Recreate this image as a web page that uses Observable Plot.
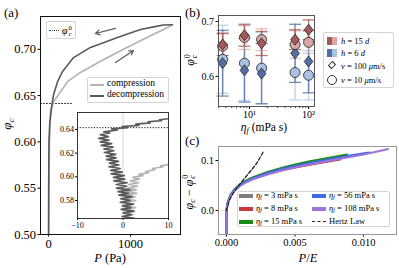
<!DOCTYPE html>
<html><head><meta charset="utf-8">
<script src="https://cdn.jsdelivr.net/npm/d3@7"></script>
<script src="https://cdn.jsdelivr.net/npm/@observablehq/plot@0.6"></script>
<style>
body{margin:0;background:#fff;}
#fig{position:relative;width:399px;height:268px;overflow:hidden;font-family:"Liberation Serif",serif;color:#000;background:#fff}
#fig svg{position:absolute;overflow:visible}
.t{position:absolute;white-space:nowrap;line-height:1}
.c{transform:translate(-50%,-50%)}
.rot{transform:translate(-50%,-50%) rotate(-90deg)}
.lg{position:absolute;border:1px solid #d4d4d4;border-radius:2px;background:rgba(255,255,255,0.9);box-sizing:border-box}
.ss{display:inline-block;vertical-align:-0.32em;font-size:0.68em;line-height:0.9;text-align:left;margin-left:1px}
.sb{font-size:0.7em;vertical-align:-0.25em}
.ln{position:absolute;height:0}
.sw{position:absolute}
</style></head><body><div id="fig"></div><script>
// ---------------- DATA ----------------
// Panel (a) main curves: P (Pa) vs phi_c
const compressionP     = [3, 6, 12, 24, 60, 122, 232, 390, 634, 915, 1207, 1451, 1512];
const compressionPhi   = [0.50, 0.56, 0.60, 0.633, 0.643, 0.651, 0.665, 0.675, 0.687, 0.700, 0.713, 0.7235, 0.7265];
const decompressionP   = [1512, 1400, 1300, 1122, 841, 512, 305, 171, 110, 61, 37, 15, 5, 2, 0];
const decompressionPhi = [0.7265, 0.7262, 0.7245, 0.7214, 0.7127, 0.702, 0.691, 0.676, 0.665, 0.651, 0.637, 0.62, 0.60, 0.55, 0.50];
const phiC0 = 0.6415;
const phiC0LineP = [-100, 280];
// arrows [P1, phi1, P2, phi2]
const decompArrow = [817, 0.7225, 573, 0.717];
const compArrow   = [817, 0.6857, 1037, 0.6987];
const aTicksY = [0.50, 0.55, 0.60, 0.65, 0.70];
const aTicksX = [0, 1000];

// Panel (a) inset: zig-zag near P = 0
const insetDecompP   = [2.3,-0.2,1.8,0.1,2.4,-0.4,1.7,-0.1,2.2,-0.6,1.6,-0.5,2.0,-0.9,1.2,-1.1,1.5,-1.4,0.8,-1.5,0.9,-2.0,0.4,-2.1,0.3,-2.6,-0.2,-2.7,-0.6,-3.1,-0.9,-3.0,-1.0,-3.6,-1.5,-3.7,-1.6,-4.1,-2.0,-4.2,-2.2,-4.8,-2.5,-5.0,-3.1,-5.3,-3.2,-5.0,-2.9,-4.2,-1.2,-2.5,1.0,-0.2,3.5,2.8,6.0,5.5,8.5,8.0,11];
const insetDecompPhi = [0.5650,0.5665,0.5680,0.5695,0.5710,0.5725,0.5740,0.5755,0.5770,0.5785,0.5800,0.5815,0.5830,0.5845,0.5860,0.5875,0.5890,0.5905,0.5920,0.5935,0.5950,0.5965,0.5980,0.5995,0.6010,0.6025,0.6040,0.6055,0.6070,0.6085,0.6100,0.6115,0.6130,0.6145,0.6160,0.6175,0.6190,0.6205,0.6220,0.6235,0.6250,0.6265,0.6280,0.6295,0.6310,0.6325,0.6340,0.6355,0.6370,0.6380,0.6395,0.6405,0.6415,0.6425,0.6435,0.6445,0.6455,0.6465,0.6475,0.6482,0.6495];
const insetCompP   = [2.6,0.3,2.2,0.0,2.5,0.4,2.7,0.2,2.4,0.5,2.8,0.3,2.6,0.6,3.0,0.8,2.9,1.0,3.2,1.2,3.4,1.6,3.6,2.2,4.4,3.5,5.6,5.0,7.0,6.5,8.8,8.3,11];
const insetCompPhi = [0.5650,0.5665,0.5680,0.5695,0.5710,0.5725,0.5740,0.5755,0.5770,0.5785,0.5800,0.5815,0.5830,0.5845,0.5860,0.5875,0.5890,0.5905,0.5920,0.5935,0.5950,0.5965,0.5980,0.5995,0.6010,0.6020,0.6035,0.6045,0.6060,0.6070,0.6085,0.6092,0.6110];
const insetTicksX = [-10, 0, 10];
const insetTicksY = [0.58, 0.60, 0.62, 0.64];

// Panel (b): phi_c^0 vs eta_f
const etaB = [3.5, 8.2, 16, 59, 100];
const phiH15v100 = [0.658, 0.675, 0.660, 0.667, 0.685];
const errH15v100 = [0.020, 0.020, 0.022, 0.018, 0.018];
const phiH15v10  = [0.655, 0.671, 0.667, 0.658, 0.662];
const errH15v10  = [0.025, 0.022, 0.020, 0.025, 0.020];
const phiH6v100  = [0.624, 0.611, 0.605, 0.642, 0.627];
const errH6v100  = [0.060, 0.058, 0.055, 0.053, 0.057];
const phiH6v10   = [0.631, 0.624, 0.615, 0.607, 0.602];
const errH6v10   = [0.062, 0.068, 0.065, 0.050, 0.045];
const bTicksY = [0.6, 0.7];
const bTicksX = [10, 100];
const bMinorX = [3,4,5,6,7,8,9,20,30,40,50,60,70,80,90];

// Panel (c): phi_c - phi_c^0 vs P/E
const cEta = ["3", "8", "15", "56", "108"];
const cX3   = [0,0,0.0001,0.0003,0.0006,0.001,0.0015,0.002,0.003,0.004,0.005,0.006,0.007];
const cY3   = [-0.06,0,0.016,0.031,0.042,0.052,0.060,0.066,0.075,0.083,0.089,0.095,0.100];
const cX8   = [0,0,0.0001,0.0003,0.0006,0.001,0.0015,0.002,0.003,0.004,0.005,0.006,0.007,0.0083];
const cY8   = [-0.06,0,0.016,0.030,0.041,0.050,0.058,0.064,0.073,0.080,0.086,0.091,0.096,0.102];
const cX15  = [0,0,0.0001,0.0003,0.0006,0.001,0.0015,0.002,0.003,0.004,0.005,0.006,0.007,0.008,0.0088];
const cY15  = [-0.06,0,0.017,0.032,0.043,0.053,0.061,0.067,0.077,0.085,0.092,0.098,0.103,0.108,0.112];
const cX56  = [0,0,0.0001,0.0003,0.0006,0.001,0.0015,0.002,0.003,0.004,0.005,0.006,0.007,0.008,0.009,0.0104];
const cY56  = [-0.06,0,0.016,0.031,0.042,0.051,0.059,0.065,0.075,0.083,0.089,0.095,0.100,0.105,0.110,0.116];
const cX108 = [0,0,0.0001,0.0003,0.0006,0.001,0.0015,0.002,0.003,0.004,0.005,0.006,0.007,0.008,0.009,0.010,0.011,0.0118];
const cY108 = [-0.06,0,0.015,0.029,0.040,0.049,0.057,0.063,0.072,0.080,0.086,0.092,0.097,0.102,0.107,0.112,0.118,0.123];
const hertzX = [0, 0.0002, 0.0005, 0.0011, 0.0017, 0.0022, 0.0027];
const hertzY = [0, 0.020, 0.035, 0.057, 0.077, 0.094, 0.118];
const cTicksX = [0, 0.005, 0.010];
const cTicksY = [0.0, 0.1];

// ---------------- STYLES ----------------
const lightGray = "#b3b3b3", darkGray = "#595959";
const darkRed = "#a65757", lightRed = "#d9a6a4", darkBlue = "#4f6fa6", lightBlue = "#aac2e2";
const cColors = ["#7f7f7f", "#c8383c", "#1a8a1a", "#4169e1", "#9a77dd"];

// ---------------- HELPERS ----------------
const fig = document.getElementById("fig");
const zip = (xs, ys) => xs.map((x, i) => ({x, y: ys[i]}));
function place(svg, left, top) { svg.style.left = left + "px"; svg.style.top = top + "px"; fig.appendChild(svg); }
function txt(html, x, y, size, cls = "", extra = "") {
  const d = document.createElement("div");
  d.className = "t " + cls;
  d.style.cssText = `left:${x}px;top:${y}px;font-size:${size}px;${extra}`;
  d.innerHTML = html; fig.appendChild(d); return d;
}
function box(x, y, w, h) { const d = document.createElement("div"); d.className = "lg"; d.style.cssText = `left:${x}px;top:${y}px;width:${w}px;height:${h}px`; fig.appendChild(d); return d; }
function el(cls, css, html = "") { const d = document.createElement("div"); d.className = cls; d.style.cssText = css; d.innerHTML = html; fig.appendChild(d); return d; }
const phi0 = `<i>φ</i><span class="ss">0<br><i>c</i></span>`;
const phic = `<i>φ</i><span class="sb"><i>c</i></span>`;
const baseStyle = (size) => ({fontFamily: "Liberation Serif, serif", fontSize: size + "px", background: "transparent", overflow: "visible", position: "absolute"});

// ---------------- PANEL (a) ----------------
const plotA = Plot.plot({
  width: 190, height: 268, marginLeft: 40, marginRight: 10, marginTop: 16, marginBottom: 34,
  style: baseStyle(12.5),
  x: {domain: [-98, 1610]},
  y: {domain: [0.5, 0.7354]},
  marks: [
    Plot.axisY({ticks: aTicksY, tickFormat: d3.format(".2f"), tickSize: 2.5, tickPadding: 2, label: null}),
    Plot.axisX({ticks: aTicksX, tickFormat: d3.format("d"), tickSize: 2.5, tickPadding: 2, label: null}),
    Plot.line(phiC0LineP, {x: d => d, y: () => phiC0, stroke: "#444", strokeWidth: 1, strokeDasharray: "1.3,1.7"}),
    Plot.line(zip(compressionP, compressionPhi), {x: "x", y: "y", stroke: lightGray, strokeWidth: 1.6}),
    Plot.line(zip(decompressionP, decompressionPhi), {x: "x", y: "y", stroke: darkGray, strokeWidth: 1.6}),
    Plot.arrow([decompArrow, compArrow], {x1: d => d[0], y1: d => d[1], x2: d => d[2], y2: d => d[3], stroke: darkGray, strokeWidth: 1.2, headLength: 6}),
    Plot.frame({stroke: "#111", strokeWidth: 1})
  ]
});
place(plotA, 0, 0);

// inset
const plotInset = Plot.plot({
  width: 120, height: 130, marginLeft: 17, marginRight: 12, marginTop: 12, marginBottom: 12,
  style: baseStyle(8),
  x: {domain: [-10, 10]},
  y: {domain: [0.5648, 0.6543]},
  marks: [
    Plot.frame({fill: "white", stroke: "none"}),
    Plot.ruleX([0], {stroke: "#c8c8c8", strokeWidth: 0.8}),
    Plot.ruleY([phiC0], {stroke: "#222", strokeWidth: 1, strokeDasharray: "1.3,1.5"}),
    Plot.line(zip(insetCompP, insetCompPhi), {x: "x", y: "y", stroke: lightGray, strokeWidth: 1.7, clip: true}),
    Plot.line(zip(insetDecompP, insetDecompPhi), {x: "x", y: "y", stroke: darkGray, strokeWidth: 1.7, clip: true}),
    Plot.axisY({ticks: insetTicksY, tickFormat: d3.format(".2f"), tickSize: 2, tickPadding: 1.5, label: null}),
    Plot.axisX({ticks: insetTicksX, tickFormat: d => d < 0 ? "−" + (-d) : String(d), tickSize: 2, tickPadding: 1.5, label: null}),
    Plot.frame({stroke: "#222", strokeWidth: 0.9})
  ]
});
place(plotInset, 60, 100);

// panel (a) texts and legends
txt("(a)", 4, 6, 13);
txt(phic, 8, 124, 13, "rot");
txt(`<i>P</i> (Pa)`, 110, 258, 12.5, "c");
box(46, 21, 30, 18);
el("ln", "left:49px;top:30px;width:10px;border-top:1px dotted #444");
txt(phi0, 62, 25, 10);
box(87, 77, 82, 26);
el("sw", `left:90px;top:84px;width:14px;height:2px;background:${lightGray}`);
el("sw", `left:90px;top:95px;width:14px;height:2px;background:${darkGray}`);
txt("compression", 107, 79, 9.5);
txt("decompression", 107, 90, 9.5);

// ---------------- PANEL (b) ----------------
const diamond = {draw(ctx, size) { const r = Math.sqrt(size / Math.PI); ctx.moveTo(0, -r * 1.15); ctx.lineTo(r * 0.9, 0); ctx.lineTo(0, r * 1.15); ctx.lineTo(-r * 0.9, 0); ctx.closePath(); }};
const cap = {draw(ctx, size) { const w = Math.sqrt(size); ctx.moveTo(-w, 0); ctx.lineTo(w, 0); }};
const seriesB = [
  {phi: phiH6v10,   err: errH6v10,   fill: lightBlue, bar: lightBlue, sym: "circle", op: 0.7},
  {phi: phiH6v100,  err: errH6v100,  fill: darkBlue,  bar: darkBlue,  sym: diamond,  op: 0.8},
  {phi: phiH15v10,  err: errH15v10,  fill: lightRed,  bar: lightRed,  sym: "circle", op: 0.7},
  {phi: phiH15v100, err: errH15v100, fill: darkRed,   bar: darkRed,   sym: diamond,  op: 0.8}
];
const marksB = [
  Plot.axisY({ticks: bTicksY, tickFormat: d3.format(".1f"), tickSize: 2.5, tickPadding: 2, label: null}),
  Plot.axisX({ticks: bTicksX, tickFormat: d => d === 10 ? "10¹" : "10²", tickSize: 3, tickPadding: 1.5, label: null}),
  Plot.axisX({ticks: bMinorX, tickFormat: () => "", tickSize: 1.8, label: null})
];
for (const s of seriesB) {
  const rows = etaB.map((e, i) => ({eta: e, phi: s.phi[i], lo: s.phi[i] - s.err[i], hi: s.phi[i] + s.err[i]}));
  marksB.push(Plot.ruleX(rows, {x: "eta", y1: "lo", y2: "hi", stroke: s.bar, strokeWidth: 1.4, strokeOpacity: s.op}));
  marksB.push(Plot.dot(rows, {x: "eta", y: "lo", symbol: cap, r: 3.4, stroke: s.bar, fill: "none", strokeWidth: 1.3, strokeOpacity: s.op}));
  marksB.push(Plot.dot(rows, {x: "eta", y: "hi", symbol: cap, r: 3.4, stroke: s.bar, fill: "none", strokeWidth: 1.3, strokeOpacity: s.op}));
}
for (const s of seriesB) {
  const rows = etaB.map((e, i) => ({eta: e, phi: s.phi[i]}));
  marksB.push(Plot.dot(rows, {x: "eta", y: "phi", symbol: s.sym, r: s.sym === "circle" ? 5 : 4.8, fill: s.fill, stroke: "#333", strokeWidth: 0.9}));
}
marksB.push(Plot.frame({stroke: "#555", strokeWidth: 1}));
const plotB = Plot.plot({
  width: 204, height: 134, marginLeft: 23, marginRight: 85, marginTop: 15, marginBottom: 28,
  style: baseStyle(10),
  x: {type: "log", domain: [2.98, 126]},
  y: {domain: [0.545, 0.711]},
  marks: marksB
});
place(plotB, 195, 0);

txt("(b)", 185, 6, 13);
txt(phi0, 191, 60, 12, "rot");
txt(`<i>η</i><span class="sb"><i>f</i></span> (mPa s)`, 264, 129, 11.5, "c");
box(323, 32, 71, 56);
el("sw", `left:327px;top:37px;width:5px;height:8px;background:${darkRed}`);
el("sw", `left:332px;top:37px;width:5px;height:8px;background:${lightRed}`);
el("sw", `left:327px;top:49px;width:5px;height:8px;background:${darkBlue}`);
el("sw", `left:332px;top:49px;width:5px;height:8px;background:${lightBlue}`);
el("sw", `left:329px;top:62px;width:6px;height:6px;border:1px solid #333;transform:rotate(45deg) scale(0.85,1.1);box-sizing:border-box`);
el("sw", `left:327px;top:75px;width:10px;height:10px;border:1px solid #333;border-radius:50%;box-sizing:border-box`);
txt(`<i>h</i> = 15 <i>d</i>`, 341, 37, 8.5);
txt(`<i>h</i> = 6 <i>d</i>`, 341, 49, 8.5);
txt(`<i>v</i> = 100 <i>μ</i>m/s`, 341, 62, 8.5);
txt(`<i>v</i> = 10 <i>μ</i>m/s`, 341, 76, 8.5);

// ---------------- PANEL (c) ----------------
const cSeries = [[cX3, cY3], [cX8, cY8], [cX15, cY15], [cX56, cY56], [cX108, cY108]];
const plotC = Plot.plot({
  width: 204, height: 134, marginLeft: 23, marginRight: 3, marginTop: 12, marginBottom: 34,
  style: baseStyle(10.5),
  x: {domain: [-0.00058, 0.0124]},
  y: {domain: [-0.048, 0.128]},
  marks: [
    Plot.axisY({ticks: cTicksY, tickFormat: d3.format(".1f"), tickSize: 2.5, tickPadding: 2, label: null}),
    Plot.axisX({ticks: cTicksX, tickFormat: d3.format(".3f"), tickSize: 2.5, tickPadding: 2, label: null}),
    ...cSeries.map(([xs, ys], i) => Plot.line(zip(xs, ys), {x: "x", y: "y", stroke: cColors[i], strokeWidth: 2, clip: true})),
    Plot.line(zip(hertzX, hertzY), {x: "x", y: "y", stroke: "#222", strokeWidth: 1.3, strokeDasharray: "3.5,2"}),
    Plot.frame({stroke: "#999", strokeWidth: 1})
  ]
});
place(plotC, 195, 134);

txt("(c)", 185, 134, 13);
txt(`${phic} − ${phi0}`, 190, 192, 12, "rot");
txt(`<i>P</i>/<i>E</i>`, 308, 258, 12.5, "c");
box(237, 191, 153, 36);
const legC = [
  {c: cColors[0], t: `<i>η</i><span class="sb"><i>f</i></span> = ${cEta[0]} mPa s`, x: 239, y: 196},
  {c: cColors[1], t: `<i>η</i><span class="sb"><i>f</i></span> = ${cEta[1]} mPa s`, x: 239, y: 209},
  {c: cColors[2], t: `<i>η</i><span class="sb"><i>f</i></span> = ${cEta[2]} mPa s`, x: 239, y: 222},
  {c: cColors[3], t: `<i>η</i><span class="sb"><i>f</i></span> = ${cEta[3]} mPa s`, x: 312, y: 196},
  {c: cColors[4], t: `<i>η</i><span class="sb"><i>f</i></span> = ${cEta[4]} mPa s`, x: 312, y: 209}
];
for (const l of legC) {
  el("sw", `left:${l.x}px;top:${l.y - 2}px;width:14px;height:4px;background:${l.c}`);
  txt(l.t, l.x + 17, l.y - 5, 8.5);
}
el("ln", "left:312px;top:221px;width:14px;border-top:1.5px dashed #222");
txt("Hertz Law", 329, 217, 8.5);
</script></body></html>
